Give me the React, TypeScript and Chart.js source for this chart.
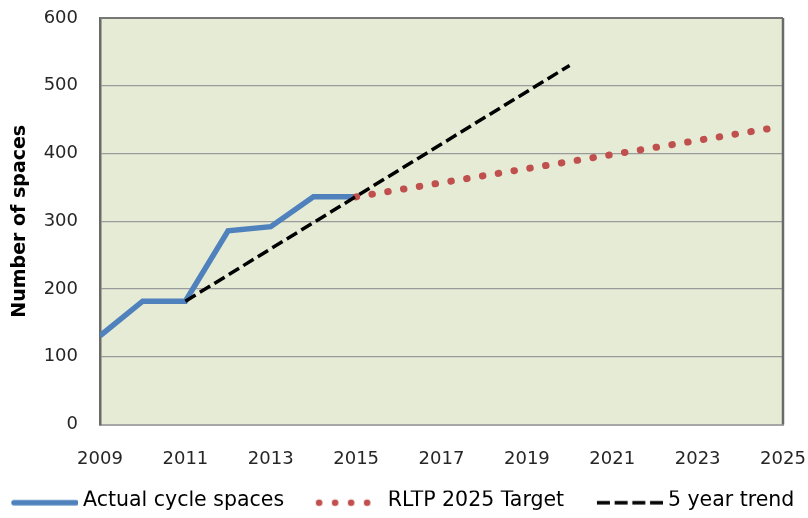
import React, { useEffect, useRef } from "react";
import { Chart, registerables } from "chart.js";

Chart.register(...registerables);

const actualYears = [2009, 2010, 2011, 2012, 2013, 2014, 2015];
const actualValues = [131, 182, 182, 286, 292, 336, 336];
const targetYears = [2015, 2024.7];
const targetValues = [336, 437];
const trendYears = [2011, 2020];
const trendValues = [182, 530];

const labels = ["Actual cycle spaces", "RLTP 2025 Target", "5 year trend"];
const FONT = "DejaVu Sans";
const LEG_FS = 20.5;
const IMG_W = 104;
const BOX_W = IMG_W - (LEG_FS - 10);
const PAD_L = 78 + (LEG_FS - 10) / 2 - IMG_W;

function sampleCanvas(kind: number) {
  const c = document.createElement("canvas");
  c.width = IMG_W;
  c.height = 14;
  const ctx = c.getContext("2d")!;
  const cy = 9;
  if (kind === 0) {
    ctx.strokeStyle = "#4F81BD";
    ctx.lineWidth = 5.5;
    ctx.lineCap = "round";
    ctx.beginPath();
    ctx.moveTo(IMG_W - 66 + 2, cy);
    ctx.lineTo(IMG_W - 2, cy);
    ctx.stroke();
  } else if (kind === 1) {
    ctx.fillStyle = "#C0504D";
    const g = IMG_W - 67;
    for (let k = 0; k < 4; k++) {
      ctx.beginPath();
      ctx.arc(g + 3.3 + 16 * k, cy, 3.3, 0, Math.PI * 2);
      ctx.fill();
    }
  } else {
    ctx.strokeStyle = "#000";
    ctx.lineWidth = 3.5;
    ctx.setLineDash([13, 4.7]);
    ctx.beginPath();
    ctx.moveTo(IMG_W - 66, cy);
    ctx.lineTo(IMG_W, cy);
    ctx.stroke();
  }
  return c;
}

const plotFrame = {
  id: "plotFrame",
  beforeDraw(chart: any) {
    const { ctx, chartArea: a } = chart;
    ctx.save();
    ctx.fillStyle = "#E6EBD6";
    ctx.fillRect(a.left, a.top, a.right - a.left, a.bottom - a.top);
    ctx.restore();
  },
  afterDatasetsDraw(chart: any) {
    const { ctx, chartArea: a } = chart;
    ctx.save();
    ctx.strokeStyle = "#777777";
    ctx.lineWidth = 2;
    ctx.beginPath();
    ctx.moveTo(a.left, a.top);
    ctx.lineTo(a.right, a.top);
    ctx.stroke();
    ctx.strokeStyle = "#6a6a6a";
    ctx.lineWidth = 2.5;
    ctx.beginPath();
    ctx.moveTo(a.right, a.top);
    ctx.lineTo(a.right, a.bottom);
    ctx.stroke();
    ctx.restore();
  },
};

export default function App() {
  const ref = useRef<HTMLCanvasElement>(null);
  useEffect(() => {
    document.body.style.margin = "0";
    const toXY = (xs: number[], ys: number[]) => xs.map((x, i) => ({ x, y: ys[i] }));
    const samples = [sampleCanvas(0), sampleCanvas(1), sampleCanvas(2)];
    const chart = new Chart(ref.current!, {
      type: "line",
      data: {
        datasets: [
          {
            label: labels[0],
            data: toXY(actualYears, actualValues),
            borderColor: "#4F81BD",
            backgroundColor: "#4F81BD",
            borderWidth: 5.5,
            pointRadius: 0,
            borderJoinStyle: "miter",
            order: 3,
          },
          {
            label: labels[1],
            data: toXY(targetYears, targetValues),
            borderColor: "#C0504D",
            backgroundColor: "#C0504D",
            borderWidth: 7,
            borderDash: [0.5, 15.5],
            borderCapStyle: "round",
            pointRadius: 0,
            order: 2,
          },
          {
            label: labels[2],
            data: toXY(trendYears, trendValues),
            borderColor: "#000000",
            backgroundColor: "#000000",
            borderWidth: 3.5,
            borderDash: [12, 5],
            pointRadius: 0,
            order: 1,
          },
        ],
      },
      options: {
        animation: false,
        responsive: false,
        layout: { padding: { top: 18, right: 0, left: PAD_L, bottom: -3 } },
        plugins: {
          tooltip: { enabled: false },
          legend: {
            position: "bottom",
            align: "start",
            labels: {
              usePointStyle: true,
              pointStyleWidth: BOX_W,
              padding: 0,
              color: "#000",
              font: { family: FONT, size: LEG_FS },
              generateLabels: () =>
                labels.map((t, i) => ({
                  text: t,
                  pointStyle: samples[i],
                  datasetIndex: i,
                  fillStyle: "transparent",
                  strokeStyle: "transparent",
                  lineWidth: 0,
                  fontColor: "#000",
                  hidden: false,
                })),
            },
          },
        },
        scales: {
          x: {
            type: "linear",
            min: 2009,
            max: 2025,
            ticks: {
              stepSize: 2,
              padding: 24,
              color: "#262626",
              font: { family: FONT, size: 18 },
              callback: (v: any) => String(v),
              maxRotation: 0,
            },
            grid: { display: false, drawTicks: false },
            border: { display: true, color: "#a6a6a6", width: 2 },
            afterFit: (s: any) => {
              s.paddingLeft = 0;
              s.paddingRight = 0;
              s.height = 66;
            },
          },
          y: {
            min: 0,
            max: 600,
            ticks: {
              stepSize: 100,
              padding: 22,
              color: "#262626",
              font: { family: FONT, size: 18 },
            },
            grid: { color: "#9a9a9a", lineWidth: 1.3, drawTicks: false },
            border: { display: true, color: "#6a6a6a", width: 2.5 },
            title: {
              display: true,
              text: "Number of spaces",
              color: "#000",
              font: { family: FONT, size: 19, weight: "bold" },
              padding: { top: 20 - PAD_L - 11.4, bottom: 0 },
            },
            afterFit: (s: any) => {
              s.width = 100 - PAD_L;
              s.paddingTop = 0;
              s.paddingBottom = 0;
            },
          },
          yRightSpace: {
            position: "right",
            display: true,
            min: 0,
            max: 1,
            ticks: { display: false },
            grid: { display: false, drawTicks: false },
            border: { display: false },
            afterFit: (s: any) => {
              s.width = 25;
              s.paddingTop = 0;
              s.paddingBottom = 0;
            },
          },
        },
      },
      plugins: [plotFrame],
    });
    return () => chart.destroy();
  }, []);
  return (
    <div style={{ position: "absolute", left: 0, top: 0, width: 808, height: 518 }}>
      <canvas ref={ref} width={808} height={518} />
    </div>
  );
}
